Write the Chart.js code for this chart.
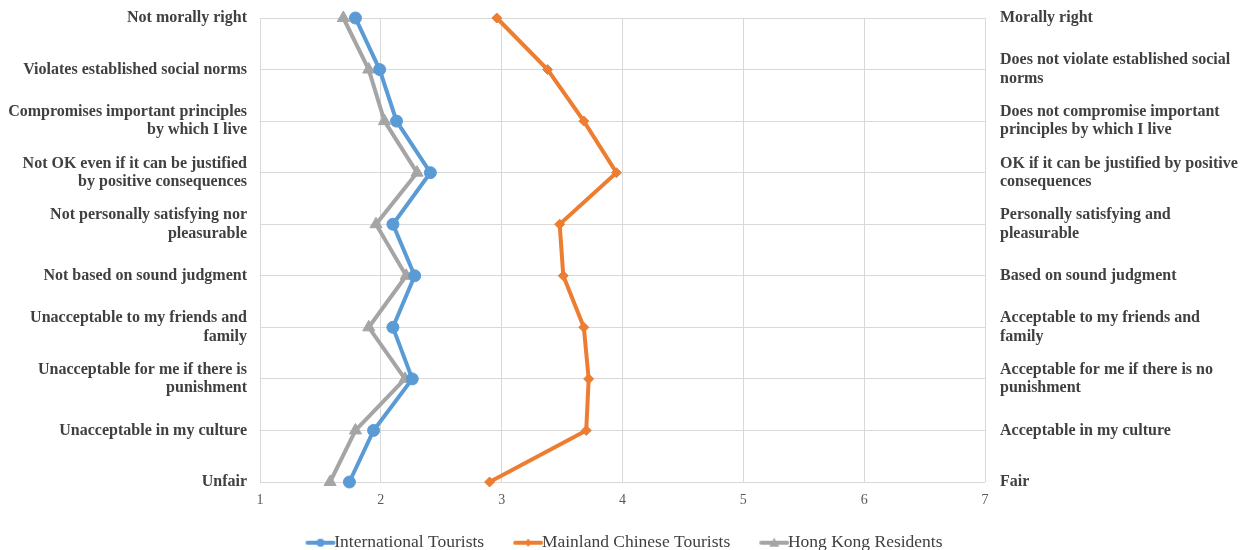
<!DOCTYPE html>
<html>
<head>
<meta charset="utf-8">
<script src="https://cdn.jsdelivr.net/npm/chart.js@4.4.1/dist/chart.umd.min.js"></script>
<style>
  html, body { margin: 0; padding: 0; background: #fff; }
  #wrap { width: 1244px; height: 550px; }
</style>
</head>
<body>
<div id="wrap"><canvas id="chart" width="1244" height="550"></canvas></div>
<script>
// statements (left = negative pole, right = positive pole)
const leftLabels = [
    'Not morally right',
    'Violates established social norms',
    ['Compromises important principles', 'by which I live'],
    ['Not OK even if it can be justified', 'by positive consequences'],
    ['Not personally satisfying nor', 'pleasurable'],
    'Not based on sound judgment',
    ['Unacceptable to my friends and', 'family'],
    ['Unacceptable for me if there is', 'punishment'],
    'Unacceptable in my culture',
    'Unfair'
];
const rightLabels = [
    'Morally right',
    ['Does not violate established social', 'norms'],
    ['Does not compromise important', 'principles by which I live'],
    ['OK if it can be justified by positive', 'consequences'],
    ['Personally satisfying and', 'pleasurable'],
    'Based on sound judgment',
    ['Acceptable to my friends and', 'family'],
    ['Acceptable for me if there is no', 'punishment'],
    'Acceptable in my culture',
    'Fair'
];
const scaleTicks = [1, 2, 3, 4, 5, 6, 7];

const international = [1.79, 1.99, 2.13, 2.41, 2.10, 2.28, 2.10, 2.26, 1.94, 1.74];
const mainland      = [2.96, 3.38, 3.68, 3.95, 3.48, 3.51, 3.68, 3.72, 3.70, 2.90];
const hongKong      = [1.69, 1.90, 2.03, 2.30, 1.96, 2.21, 1.90, 2.20, 1.79, 1.58];

const BLUE = '#5b9bd5', ORANGE = '#ed7d31', GRAY = '#a5a5a5';
const SERIF = '"Liberation Serif", "Times New Roman", serif';

// line+marker icon for the legend; the line sits right of centre so it ends next to the text
function legendIcon(color, style) {
    const c = document.createElement('canvas');
    c.width = 50; c.height = 14;
    const ctx = c.getContext('2d');
    const x0 = 19, x1 = 45, mid = (x0 + x1) / 2;
    ctx.strokeStyle = color; ctx.fillStyle = color;
    ctx.lineWidth = 4; ctx.lineCap = 'round';
    ctx.beginPath(); ctx.moveTo(x0, 7); ctx.lineTo(x1, 7); ctx.stroke();
    ctx.beginPath();
    if (style === 'circle') {
        ctx.arc(mid, 7, 4, 0, Math.PI * 2);
    } else if (style === 'diamond') {
        ctx.moveTo(mid, 3); ctx.lineTo(mid + 4, 7); ctx.lineTo(mid, 11); ctx.lineTo(mid - 4, 7);
    } else {
        ctx.moveTo(mid, 2); ctx.lineTo(mid + 5, 11); ctx.lineTo(mid - 5, 11);
    }
    ctx.closePath(); ctx.fill();
    return c;
}
const icons = [legendIcon(BLUE, 'circle'), legendIcon(ORANGE, 'diamond'), legendIcon(GRAY, 'triangle')];

function series(label, data, color, style, radius) {
    return {
        label: label,
        data: data,
        borderColor: color,
        backgroundColor: color,
        borderWidth: 4,
        pointStyle: style,
        pointRadius: radius,
        pointHoverRadius: radius,
        pointBorderWidth: 1,
        tension: 0,
        yAxisID: 'y',
        xAxisID: 'x'
    };
}

const labelFont = { family: SERIF, size: 16, weight: 'bold', lineHeight: 1.15 };

new Chart(document.getElementById('chart'), {
    type: 'line',
    data: {
        labels: leftLabels,
        datasets: [
            series('International Tourists', international, BLUE, 'circle', 6),
            series('Mainland Chinese Tourists', mainland, ORANGE, 'rectRot', 5),
            series('Hong Kong Residents', hongKong, GRAY, 'triangle', 7)
        ]
    },
    options: {
        responsive: false,
        animation: false,
        indexAxis: 'y',
        layout: { padding: { top: 18, left: 0, right: 0, bottom: 0 } },
        scales: {
            x: {
                type: 'linear',
                min: 1,
                max: 7,
                afterBuildTicks: function(scale) {
                    scale.ticks = scaleTicks.map(v => ({ value: v }));
                },
                grid: { color: '#d9d9d9', lineWidth: 1, drawTicks: false },
                border: { display: false },
                ticks: { color: '#595959', font: { family: SERIF, size: 14 }, padding: 10 },
                afterFit: function(scale) { scale.height = 27; }
            },
            y: {
                type: 'category',
                position: 'left',
                grid: { color: '#d9d9d9', lineWidth: 1, drawTicks: false },
                border: { color: '#d9d9d9' },
                ticks: { color: '#404040', font: labelFont, padding: 13, autoSkip: false },
                afterFit: function(scale) {
                    scale.width = 260;
                    scale.paddingTop = 0;
                    scale.paddingBottom = 0;
                }
            },
            yRight: {
                type: 'category',
                position: 'right',
                labels: rightLabels,
                grid: { display: false, drawTicks: false },
                border: { display: false },
                ticks: { color: '#404040', font: labelFont, padding: 15, autoSkip: false },
                afterFit: function(scale) {
                    scale.width = 259;
                    scale.paddingTop = 0;
                    scale.paddingBottom = 0;
                }
            }
        },
        plugins: {
            tooltip: { enabled: false },
            legend: {
                position: 'bottom',
                maxHeight: 41,
                labels: {
                    color: '#404040',
                    font: { family: SERIF, size: 17.5 },
                    usePointStyle: true,
                    pointStyleWidth: 24,
                    padding: 25,
                    generateLabels: function(chart) {
                        return chart.data.datasets.map((ds, i) => ({
                            text: ds.label,
                            datasetIndex: i,
                            pointStyle: icons[i],
                            fillStyle: ds.borderColor,
                            strokeStyle: ds.borderColor,
                            lineWidth: 0,
                            fontColor: '#404040',
                            hidden: false
                        }));
                    }
                }
            }
        }
    }
});
</script>
</body>
</html>
